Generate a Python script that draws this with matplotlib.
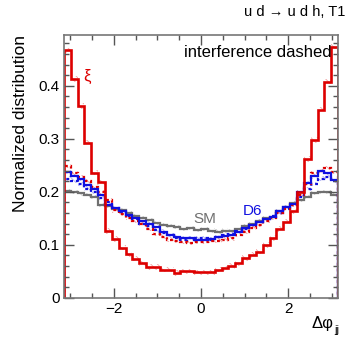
import matplotlib
matplotlib.use('Agg')
import matplotlib.pyplot as plt
import numpy as np

plt.rcParams['font.family'] = ['Liberation Sans', 'DejaVu Sans']
plt.rcParams['hatch.linewidth'] = 0.6

# 40 bins in delta phi_jj, -pi .. pi
nbins = 40
xi_vals = [0.467, 0.413, 0.362, 0.293, 0.236, 0.218, 0.126, 0.111, 0.095, 0.082,
           0.074, 0.065, 0.058, 0.058, 0.053, 0.053, 0.047, 0.050, 0.050, 0.048,
           0.048, 0.048, 0.053, 0.056, 0.060, 0.065, 0.075, 0.081, 0.087, 0.100,
           0.113, 0.130, 0.144, 0.163, 0.199, 0.262, 0.298, 0.355, 0.408, 0.474]
xi_int = [0.249, 0.235, 0.228, 0.220, 0.210, 0.200, 0.185, 0.165, 0.158, 0.150,
          0.145, 0.140, 0.130, 0.120, 0.115, 0.110, 0.108, 0.105, 0.103, 0.105,
          0.105, 0.107, 0.108, 0.110, 0.112, 0.118, 0.125, 0.132, 0.138, 0.145,
          0.150, 0.160, 0.168, 0.175, 0.195, 0.215, 0.235, 0.240, 0.245, 0.238]
d6_vals = [0.238, 0.229, 0.225, 0.213, 0.205, 0.194, 0.175, 0.170, 0.163, 0.157,
           0.150, 0.145, 0.140, 0.133, 0.125, 0.118, 0.115, 0.112, 0.112, 0.110,
           0.109, 0.111, 0.115, 0.117, 0.119, 0.125, 0.132, 0.138, 0.144, 0.148,
           0.153, 0.163, 0.172, 0.178, 0.200, 0.216, 0.229, 0.240, 0.235, 0.223]
d6_int = [0.225, 0.220, 0.215, 0.205, 0.200, 0.188, 0.180, 0.170, 0.162, 0.155,
          0.148, 0.140, 0.135, 0.128, 0.122, 0.118, 0.113, 0.110, 0.112, 0.113,
          0.112, 0.110, 0.114, 0.118, 0.121, 0.126, 0.130, 0.137, 0.143, 0.148,
          0.155, 0.160, 0.168, 0.175, 0.190, 0.205, 0.215, 0.225, 0.228, 0.220]
sm_vals = [0.202, 0.200, 0.197, 0.194, 0.190, 0.175, 0.173, 0.168, 0.165, 0.160,
           0.155, 0.150, 0.146, 0.142, 0.138, 0.135, 0.133, 0.130, 0.132, 0.128,
           0.130, 0.127, 0.125, 0.127, 0.126, 0.130, 0.135, 0.140, 0.145, 0.151,
           0.153, 0.163, 0.172, 0.179, 0.185, 0.191, 0.198, 0.200, 0.200, 0.194]

edges = np.linspace(-np.pi, np.pi, nbins + 1)

fig = plt.figure(figsize=(3.57, 3.5), dpi=100)
ax = fig.add_axes([0.179, 0.149, 0.768, 0.751])

red = '#dd0000'
blue = '#1010e0'
gray = '#707070'

def band(vals, color, err):
    v = np.array(vals)
    ax.stairs(v + err, edges, baseline=v - err, fill=True, facecolor='none',
              edgecolor=color, hatch='\\\\\\\\\\', linewidth=0)

band(sm_vals, '#c8c8c8', 0.004)
band(d6_vals, '#b0b0f0', 0.004)
band(d6_int, '#b0b0f0', 0.004)
band(xi_int, '#f0a0a0', 0.004)
band(xi_vals, '#f0a0a0', 0.005)

ax.stairs(sm_vals, edges, color=gray, lw=1.6)
ax.stairs(d6_int, edges, color=blue, lw=1.6, ls=(0, (1.3, 1.3)))
ax.stairs(xi_int, edges, color=red, lw=1.6, ls=(0, (1.3, 1.3)))
ax.stairs(d6_vals, edges, color=blue, lw=1.6)
ax.stairs(xi_vals, edges, color=red, lw=1.9)

ax.set_xlim(-np.pi, np.pi)
ax.set_ylim(0, 0.496)

ax.set_xticks([-2, 0, 2])
ax.set_xticklabels(['\u22122', '0', '2'])
ax.set_xticks(np.arange(-3, 3.01, 0.5), minor=True)
ax.set_yticks([0, 0.1, 0.2, 0.3, 0.4])
ax.set_yticklabels(['0', '0.1', '0.2', '0.3', '0.4'])
ax.set_yticks(np.arange(0, 0.49, 0.02), minor=True)
ax.tick_params(which='both', direction='in', top=True, right=True,
               color='#555555', labelsize=11, pad=3)
ax.tick_params(which='major', length=7, width=1)
ax.tick_params(which='minor', length=3.5, width=1)
for s in ax.spines.values():
    s.set_color('#777777')
    s.set_linewidth(1.2)

ax.set_ylabel('Normalized distribution', fontsize=12.5, loc='top', labelpad=8)
fig.text(0.935, 0.062, '\u0394\u03c6', ha='right', fontsize=12)
fig.text(0.937, 0.048, 'jj', ha='left', fontsize=8)
fig.text(0.967, 0.955, 'u d \u2192 u d h, T1', ha='right', fontsize=10.5)
ax.text(3.0, 0.455, 'interference dashed', ha='right', fontsize=12)
ax.text(-2.62, 0.418, '\u03be', color=red, ha='center', va='center', fontsize=12)
ax.text(0.09, 0.149, 'SM', color=gray, ha='center', va='center', fontsize=11)
ax.text(1.17, 0.164, 'D6', color=blue, ha='center', va='center', fontsize=11)

fig.savefig('out.png', dpi=100)
